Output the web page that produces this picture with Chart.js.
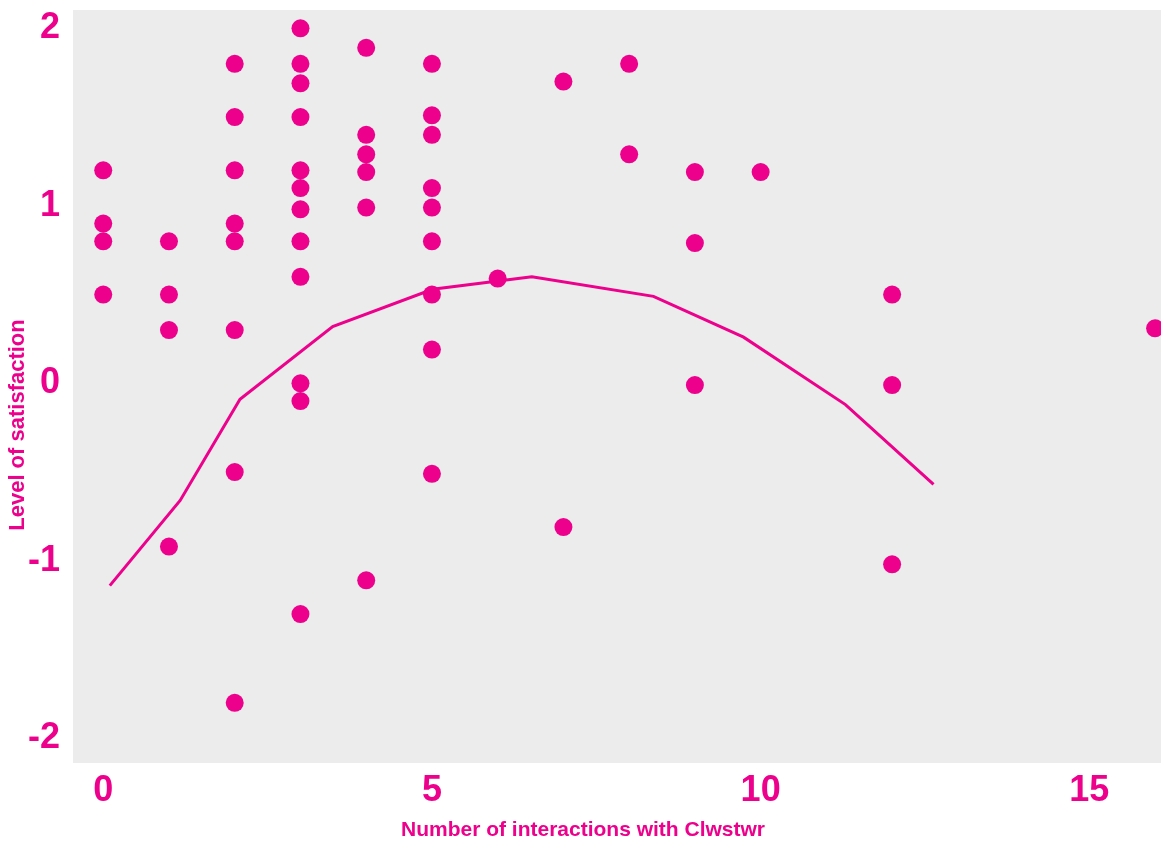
<!DOCTYPE html>
<html>
<head>
    <meta charset="UTF-8">
    <title>Satisfaction vs interactions</title>
    <script src="https://cdn.jsdelivr.net/npm/chart.js"></script>
    <style>
        body { margin: 0; background: #fff; }
        #wrap { width: 1161px; height: 841px; }
    </style>
</head>
<body>
    <div id="wrap"><canvas id="scatterChart"></canvas></div>

    <script>
        // Observed responses (interactions, satisfaction)
        const pointX = [
            0, 0, 0, 0,
            1, 1, 1, 1,
            2, 2, 2, 2, 2, 2, 2, 2,
            3, 3, 3, 3, 3, 3, 3, 3, 3, 3, 3, 3,
            4, 4, 4, 4, 4, 4,
            5, 5, 5, 5, 5, 5, 5, 5, 5,
            6,
            7, 7,
            8, 8,
            9, 9, 9,
            10,
            12, 12, 12,
            16
        ];
        const pointY = [
            1.2, 0.9, 0.8, 0.5,
            0.8, 0.5, 0.3, -0.92,
            1.8, 1.5, 1.2, 0.9, 0.8, 0.3, -0.5, -1.8,
            2.0, 1.8, 1.69, 1.5, 1.2, 1.1, 0.98, 0.8, 0.6, 0.0, -0.1, -1.3,
            1.89, 1.4, 1.29, 1.19, 0.99, -1.11,
            1.8, 1.51, 1.4, 1.1, 0.99, 0.8, 0.5, 0.19, -0.51,
            0.59,
            1.7, -0.81,
            1.8, 1.29,
            1.19, 0.79, -0.01,
            1.19,
            0.5, -0.01, -1.02,
            0.31
        ];

        // Smoothed trend line
        const trendX = [0.10, 1.17, 2.08, 3.49, 5.01, 6.52, 8.37, 9.74, 11.29, 12.63];
        const trendY = [-1.14, -0.66, -0.09, 0.32, 0.53, 0.60, 0.49, 0.26, -0.12, -0.57];

        const xTicks = [0, 5, 10, 15];
        const yTicks = [-2, -1, 0, 1, 2];

        const xTitle = 'Number of interactions with Clwstwr';
        const yTitle = 'Level of satisfaction';

        const pink = '#ec008c';
        const tickFont = { family: '"Liberation Sans", Arial, sans-serif', size: 36, weight: 'bold' };

        // gray panel behind the plot
        const panelBg = {
            id: 'panelBg',
            beforeDraw(chart) {
                const a = chart.chartArea;
                const c = chart.ctx;
                c.save();
                c.fillStyle = '#ececec';
                c.fillRect(a.left, a.top, a.right - a.left, a.bottom - a.top);
                c.restore();
            }
        };

        // axis titles (the original sits them a bit off-centre)
        const axisTitles = {
            id: 'axisTitles',
            afterDraw(chart) {
                const c = chart.ctx;
                c.save();
                c.fillStyle = pink;
                c.textAlign = 'center';
                c.textBaseline = 'middle';
                c.font = 'bold 21px "Liberation Sans", Arial, sans-serif';
                c.fillText(xTitle, 583, 830);
                c.translate(18, 425);
                c.rotate(-Math.PI / 2);
                c.font = 'bold 22px "Liberation Sans", Arial, sans-serif';
                c.fillText(yTitle, 0, 0);
                c.restore();
            }
        };

        let ctx = document.getElementById('scatterChart').getContext('2d');

        let scatterChart = new Chart(ctx, {
            type: 'scatter',
            data: {
                datasets: [
                    {
                        label: 'Responses',
                        data: pointX.map((x, i) => ({ x: x, y: pointY[i] })),
                        backgroundColor: pink,
                        borderWidth: 0,
                        pointRadius: 9,
                        order: 1
                    },
                    {
                        type: 'line',
                        label: 'Trend',
                        data: trendX.map((x, i) => ({ x: x, y: trendY[i] })),
                        borderColor: pink,
                        borderWidth: 3,
                        pointRadius: 0,
                        fill: false,
                        order: 2
                    }
                ]
            },
            options: {
                responsive: true,
                maintainAspectRatio: false,
                animation: false,
                layout: { autoPadding: false, padding: { top: 10, right: 0, left: 0, bottom: 0 } },
                plugins: {
                    legend: { display: false },
                    tooltip: { enabled: false }
                },
                scales: {
                    x: {
                        type: 'linear',
                        min: -0.46,
                        max: 16.09,
                        grid: { display: false, drawTicks: false },
                        border: { display: false },
                        afterBuildTicks: s => { s.ticks = xTicks.map(v => ({ value: v })); },
                        afterFit: s => {
                            s.height = 78;
                            s.paddingLeft = 0;
                            s.paddingRight = 0;
                        },
                        ticks: { color: pink, padding: 6, font: tickFont },
                        title: { display: false }
                    },
                    y: {
                        min: -2.139,
                        max: 2.103,
                        grid: { display: false, drawTicks: false },
                        border: { display: false },
                        afterBuildTicks: s => { s.ticks = yTicks.map(v => ({ value: v })); },
                        afterFit: s => {
                            s.width = 73;
                            s.paddingTop = 0;
                            s.paddingBottom = 0;
                        },
                        ticks: { color: pink, padding: 13, font: tickFont },
                        title: { display: false }
                    }
                }
            },
            plugins: [panelBg, axisTitles]
        });
    </script>
</body>
</html>
